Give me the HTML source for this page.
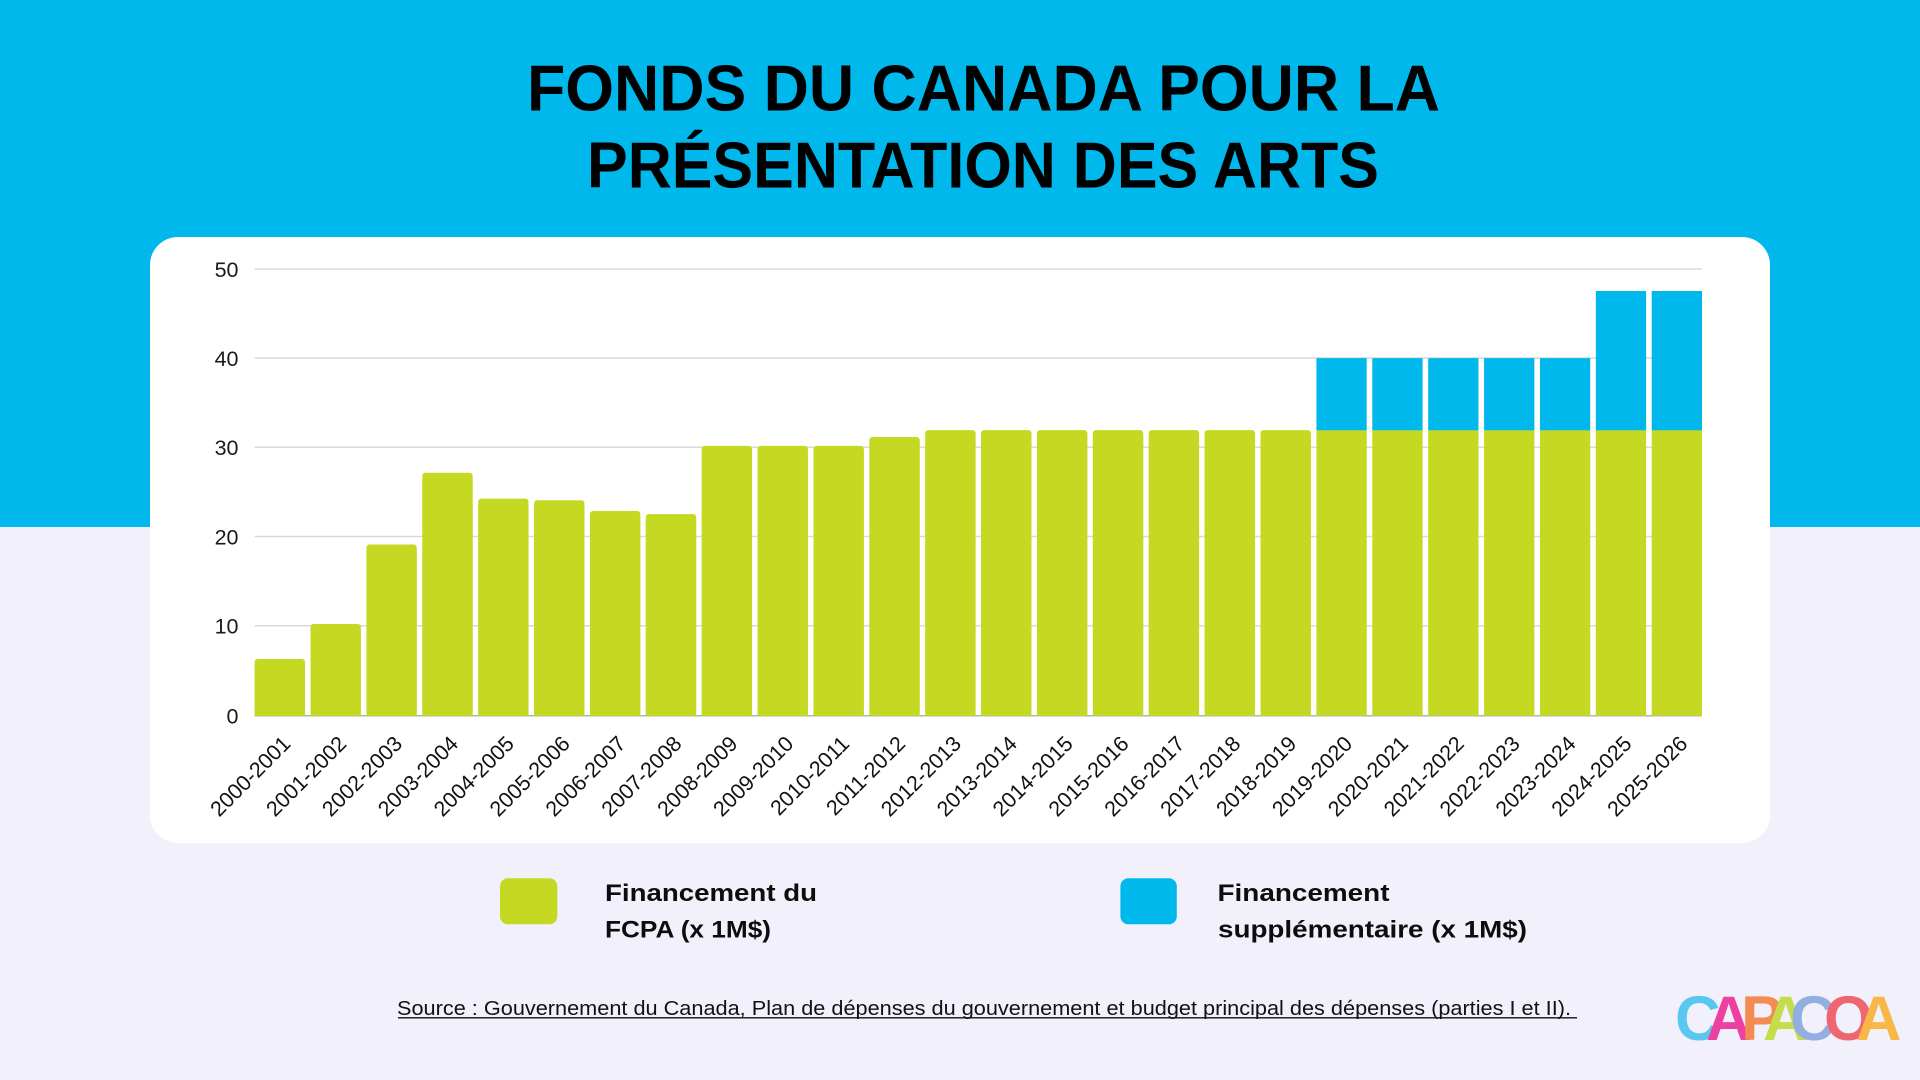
<!DOCTYPE html>
<html><head><meta charset="utf-8"><style>
html,body{margin:0;padding:0;width:1920px;height:1080px;overflow:hidden;background:#f2f0fa}
svg{display:block}
text{font-family:"Liberation Sans",Arial,sans-serif}
</style></head><body>
<svg width="1920" height="1080" viewBox="0 0 1920 1080" xmlns="http://www.w3.org/2000/svg">
<rect x="0" y="0" width="1920" height="1080" fill="#f2f0fa"/>
<rect x="0" y="0" width="1920" height="527" fill="#00b8eb"/>
<text x="527" y="110.5" font-size="65" font-weight="bold" fill="#000" textLength="913" lengthAdjust="spacingAndGlyphs">FONDS DU CANADA POUR LA</text>
<text x="587" y="187.3" font-size="65" font-weight="bold" fill="#000" textLength="792" lengthAdjust="spacingAndGlyphs">PRÉSENTATION DES ARTS</text>
<rect x="150" y="237" width="1620" height="606" rx="28" ry="28" fill="#ffffff"/>
<g stroke="#d9d9d9" stroke-width="1.5">
<line x1="254.7" y1="269" x2="1702" y2="269"/>
<line x1="254.7" y1="358" x2="1702" y2="358"/>
<line x1="254.7" y1="447.3" x2="1702" y2="447.3"/>
<line x1="254.7" y1="536.5" x2="1702" y2="536.5"/>
<line x1="254.7" y1="625.7" x2="1702" y2="625.7"/>
</g>
<line x1="254.7" y1="715.7" x2="1702" y2="715.7" stroke="#b3b3b3" stroke-width="1.5"/>
<g font-size="21.5" fill="#1a1a1a" text-anchor="end">
<text x="238.5" y="276.8">50</text>
<text x="238.5" y="365.8">40</text>
<text x="238.5" y="455.1">30</text>
<text x="238.5" y="544.3">20</text>
<text x="238.5" y="633.5">10</text>
<text x="238.5" y="723.5">0</text>
</g>
<g fill="#c5d923">
<rect x="254.7" y="659" width="50.3" height="56.7" rx="3"/><rect x="254.7" y="664" width="50.3" height="51.7"/>
<rect x="310.58" y="623.95" width="50.3" height="91.75" rx="3"/><rect x="310.58" y="629" width="50.3" height="86.7"/>
<rect x="366.46" y="544.5" width="50.3" height="171.2" rx="3"/><rect x="366.46" y="550" width="50.3" height="165.7"/>
<rect x="422.34" y="472.8" width="50.3" height="242.9" rx="3"/><rect x="422.34" y="478" width="50.3" height="237.7"/>
<rect x="478.22" y="498.6" width="50.3" height="217.1" rx="3"/><rect x="478.22" y="504" width="50.3" height="211.7"/>
<rect x="534.10" y="500.3" width="50.3" height="215.4" rx="3"/><rect x="534.10" y="506" width="50.3" height="209.7"/>
<rect x="589.98" y="511.0" width="50.3" height="204.7" rx="3"/><rect x="589.98" y="516" width="50.3" height="199.7"/>
<rect x="645.86" y="514.1" width="50.3" height="201.6" rx="3"/><rect x="645.86" y="519" width="50.3" height="196.7"/>
<rect x="701.74" y="445.9" width="50.3" height="269.8" rx="3"/><rect x="701.74" y="451" width="50.3" height="264.7"/>
<rect x="757.62" y="445.9" width="50.3" height="269.8" rx="3"/><rect x="757.62" y="451" width="50.3" height="264.7"/>
<rect x="813.50" y="445.9" width="50.3" height="269.8" rx="3"/><rect x="813.50" y="451" width="50.3" height="264.7"/>
<rect x="869.38" y="437.0" width="50.3" height="278.7" rx="3"/><rect x="869.38" y="442" width="50.3" height="273.7"/>
<rect x="925.26" y="430.1" width="50.3" height="285.6" rx="3"/><rect x="925.26" y="435" width="50.3" height="280.7"/>
<rect x="981.14" y="430.1" width="50.3" height="285.6" rx="3"/><rect x="981.14" y="435" width="50.3" height="280.7"/>
<rect x="1037.02" y="430.1" width="50.3" height="285.6" rx="3"/><rect x="1037.02" y="435" width="50.3" height="280.7"/>
<rect x="1092.90" y="430.1" width="50.3" height="285.6" rx="3"/><rect x="1092.90" y="435" width="50.3" height="280.7"/>
<rect x="1148.78" y="430.1" width="50.3" height="285.6" rx="3"/><rect x="1148.78" y="435" width="50.3" height="280.7"/>
<rect x="1204.66" y="430.1" width="50.3" height="285.6" rx="3"/><rect x="1204.66" y="435" width="50.3" height="280.7"/>
<rect x="1260.54" y="430.1" width="50.3" height="285.6" rx="3"/><rect x="1260.54" y="435" width="50.3" height="280.7"/>
<rect x="1316.42" y="430.1" width="50.3" height="285.6"/>
<rect x="1372.30" y="430.1" width="50.3" height="285.6"/>
<rect x="1428.18" y="430.1" width="50.3" height="285.6"/>
<rect x="1484.06" y="430.1" width="50.3" height="285.6"/>
<rect x="1539.94" y="430.1" width="50.3" height="285.6"/>
<rect x="1595.82" y="430.1" width="50.3" height="285.6"/>
<rect x="1651.70" y="430.1" width="50.3" height="285.6"/>
</g>
<g fill="#00b8eb">
<rect x="1316.42" y="358.1" width="50.3" height="72.2"/>
<rect x="1372.30" y="358.1" width="50.3" height="72.2"/>
<rect x="1428.18" y="358.1" width="50.3" height="72.2"/>
<rect x="1484.06" y="358.1" width="50.3" height="72.2"/>
<rect x="1539.94" y="358.1" width="50.3" height="72.2"/>
<rect x="1595.82" y="291" width="50.3" height="139.3"/>
<rect x="1651.70" y="291" width="50.3" height="139.3"/>
</g>
<g font-size="21.5" fill="#111" text-anchor="end">
<text transform="translate(291.85,745) rotate(-45)">2000-2001</text>
<text transform="translate(347.73,745) rotate(-45)">2001-2002</text>
<text transform="translate(403.61,745) rotate(-45)">2002-2003</text>
<text transform="translate(459.49,745) rotate(-45)">2003-2004</text>
<text transform="translate(515.37,745) rotate(-45)">2004-2005</text>
<text transform="translate(571.25,745) rotate(-45)">2005-2006</text>
<text transform="translate(627.13,745) rotate(-45)">2006-2007</text>
<text transform="translate(683.01,745) rotate(-45)">2007-2008</text>
<text transform="translate(738.89,745) rotate(-45)">2008-2009</text>
<text transform="translate(794.77,745) rotate(-45)">2009-2010</text>
<text transform="translate(850.65,745) rotate(-45)">2010-2011</text>
<text transform="translate(906.53,745) rotate(-45)">2011-2012</text>
<text transform="translate(962.41,745) rotate(-45)">2012-2013</text>
<text transform="translate(1018.29,745) rotate(-45)">2013-2014</text>
<text transform="translate(1074.17,745) rotate(-45)">2014-2015</text>
<text transform="translate(1130.05,745) rotate(-45)">2015-2016</text>
<text transform="translate(1185.93,745) rotate(-45)">2016-2017</text>
<text transform="translate(1241.81,745) rotate(-45)">2017-2018</text>
<text transform="translate(1297.69,745) rotate(-45)">2018-2019</text>
<text transform="translate(1353.57,745) rotate(-45)">2019-2020</text>
<text transform="translate(1409.45,745) rotate(-45)">2020-2021</text>
<text transform="translate(1465.33,745) rotate(-45)">2021-2022</text>
<text transform="translate(1521.21,745) rotate(-45)">2022-2023</text>
<text transform="translate(1577.09,745) rotate(-45)">2023-2024</text>
<text transform="translate(1632.97,745) rotate(-45)">2024-2025</text>
<text transform="translate(1688.85,745) rotate(-45)">2025-2026</text>
</g>
<rect x="500" y="878.3" width="57.3" height="46" rx="8" fill="#c5d923"/>
<rect x="1120.4" y="878.3" width="56.4" height="46" rx="8" fill="#00b8eb"/>
<g font-size="24" font-weight="bold" fill="#0d0d0d">
<text x="605" y="901" textLength="212" lengthAdjust="spacingAndGlyphs">Financement du</text>
<text x="605" y="937.3" textLength="166" lengthAdjust="spacingAndGlyphs">FCPA (x 1M$)</text>
<text x="1217.5" y="901" textLength="172" lengthAdjust="spacingAndGlyphs">Financement</text>
<text x="1218" y="937.3" textLength="309" lengthAdjust="spacingAndGlyphs">supplémentaire (x 1M$)</text>
</g>
<text x="397" y="1015" font-size="20" fill="#111" textLength="1174" lengthAdjust="spacingAndGlyphs">Source : Gouvernement du Canada, Plan de dépenses du gouvernement et budget principal des dépenses (parties I et II).</text>
<line x1="398" y1="1017.8" x2="1577" y2="1017.8" stroke="#111" stroke-width="1.4"/>
<g font-size="63" font-weight="bold" opacity="0.88">
<text x="1675" y="1040" fill="#45c3f0">C</text>
<text x="1706" y="1040" fill="#ec2a95">A</text>
<text x="1741" y="1040" fill="#f47e3c">P</text>
<text x="1763" y="1040" fill="#bfdb33">A</text>
<text x="1790" y="1040" fill="#86a7de">C</text>
<text x="1824" y="1040" fill="#ee545c">O</text>
<text x="1856" y="1040" fill="#fbb02f">A</text>
</g>
</svg>
</body></html>
